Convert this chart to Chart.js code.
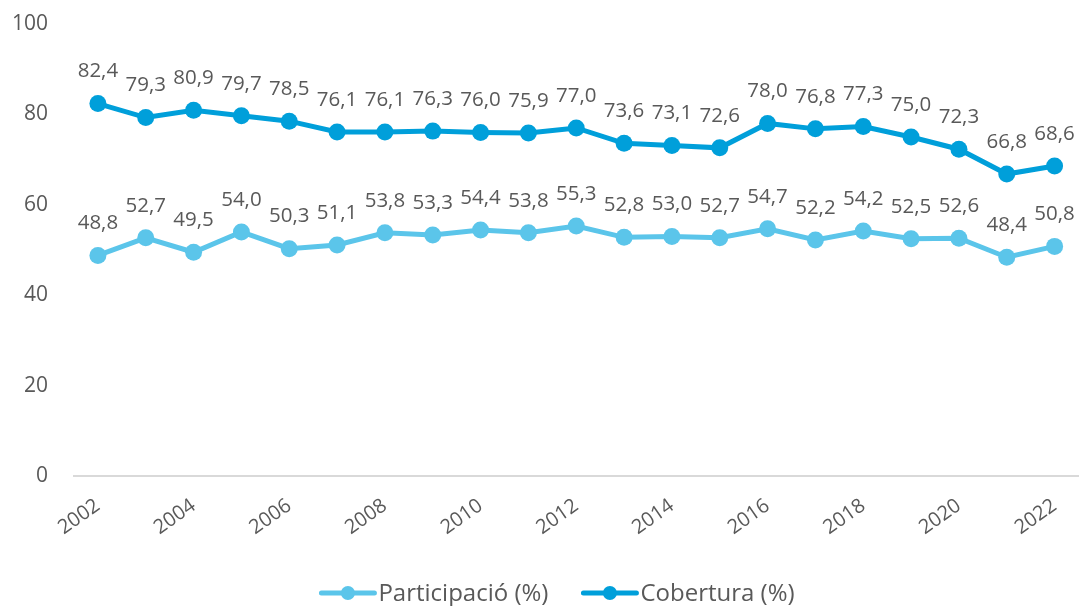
<!DOCTYPE html>
<html><head><meta charset="utf-8">
<script src="https://cdn.jsdelivr.net/npm/chart.js@4/dist/chart.umd.min.js"></script>
<style>html,body{margin:0;padding:0;background:#fff;overflow:hidden;width:1079px;height:606px}#wrap{width:1087px;height:606px;position:relative}</style>
</head><body><div id="wrap"><canvas id="c"></canvas></div>
<script>
const years = ['2002','2003','2004','2005','2006','2007','2008','2009','2010','2011','2012','2013','2014','2015','2016','2017','2018','2019','2020','2021','2022'];
const participacio = [48.8,52.7,49.5,54.0,50.3,51.1,53.8,53.3,54.4,53.8,55.3,52.8,53.0,52.7,54.7,52.2,54.2,52.5,52.6,48.4,50.8];
const cobertura = [82.4,79.3,80.9,79.7,78.5,76.1,76.1,76.3,76.0,75.9,77.0,73.6,73.1,72.6,78.0,76.8,77.3,75.0,72.3,66.8,68.6];
const yTicks = [0,20,40,60,80,100];
const seriesNames = ['Participació (%)','Cobertura (%)'];
const colors = ['#5BC5EA','#009FDA'];
const textColor = '#595959';
const FONT = '"Open Sans", sans-serif';

const labelPlugin = {
  id: 'dl',
  afterDatasetsDraw(chart) {
    const ctx = chart.ctx;
    ctx.save();
    ctx.font = '20.5px ' + FONT;
    ctx.fillStyle = textColor;
    ctx.textAlign = 'center';
    ctx.textBaseline = 'middle';
    chart.data.datasets.forEach((ds, i) => {
      const meta = chart.getDatasetMeta(i);
      meta.data.forEach((pt, j) => {
        const v = ds.data[j];
        ctx.fillText(v.toFixed(1).replace('.', ','), pt.x, pt.y - 32);
      });
    });
    ctx.restore();
  }
};

const legendPlugin = {
  id: 'lg',
  afterDraw(chart) {
    const ctx = chart.ctx;
    ctx.save();
    ctx.font = '24px ' + FONT;
    ctx.textBaseline = 'middle';
    const y = 593;
    const lineW = 57, gap = 2, itemGap = 33;
    const widths = seriesNames.map(n => lineW + gap + ctx.measureText(n).width);
    const total = widths.reduce((a,b)=>a+b,0) + itemGap;
    let x = 557 - total/2;
    seriesNames.forEach((n, i) => {
      ctx.strokeStyle = colors[i];
      ctx.lineWidth = 5;
      ctx.lineCap = 'round';
      ctx.beginPath(); ctx.moveTo(x+2, y); ctx.lineTo(x+lineW-2, y); ctx.stroke();
      ctx.fillStyle = colors[i];
      ctx.beginPath(); ctx.arc(x + lineW/2, y, 7, 0, Math.PI*2); ctx.fill();
      ctx.fillStyle = textColor;
      ctx.textAlign = 'left';
      ctx.fillText(n, x + lineW + gap, y + 1);
      x += widths[i] + itemGap;
    });
    ctx.restore();
  }
};

new Chart(document.getElementById('c'), {
  type: 'line',
  data: {
    labels: years,
    datasets: [
      {label: seriesNames[0], data: participacio, borderColor: colors[0], backgroundColor: colors[0], borderWidth: 5, pointRadius: 8.5, pointHoverRadius: 8.5, pointBorderWidth: 0, tension: 0},
      {label: seriesNames[1], data: cobertura, borderColor: colors[1], backgroundColor: colors[1], borderWidth: 5, pointRadius: 8.5, pointHoverRadius: 8.5, pointBorderWidth: 0, tension: 0}
    ]
  },
  options: {
    responsive: true, maintainAspectRatio: false, animation: false,
    layout: {padding: {top: 24, right: 0, left: 0, bottom: 0}},
    plugins: {legend: {display: false}, tooltip: {enabled: false}},
    scales: {
      x: {
        offset: true,
        grid: {display: false, drawTicks: true, tickLength: 18},
        border: {display: true, color: '#d9d9d9', width: 2},
        ticks: {
          autoSkip: false, maxRotation: 35, minRotation: 35, padding: 0,
          color: textColor, font: {family: FONT, size: 20},
          callback: function(v, i) { return i % 2 === 0 ? years[i] : ''; }
        },
        afterFit(s) { s.height = 130; }
      },
      y: {
        min: 0, max: 100,
        afterBuildTicks(s) { s.ticks = yTicks.map(v => ({value: v})); },
        grid: {display: false, drawTicks: false},
        border: {display: false},
        ticks: {padding: 26, color: textColor, font: {family: FONT, size: 21}},
        afterFit(s) { s.width = 74; s.paddingTop = 0; s.paddingBottom = 0; }
      }
    }
  },
  plugins: [labelPlugin, legendPlugin]
});
</script>
</body></html>
